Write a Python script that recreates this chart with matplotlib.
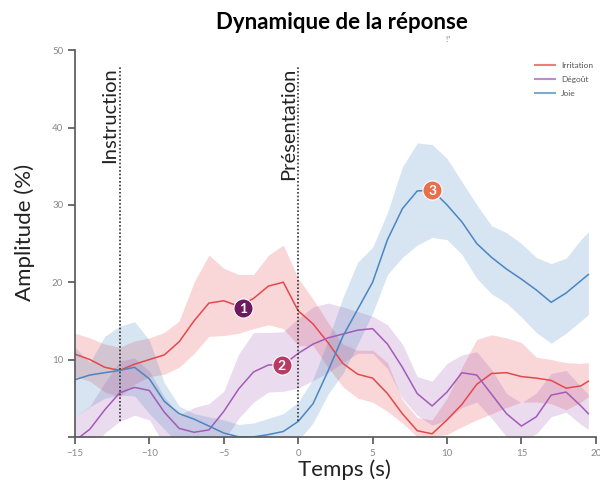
import numpy as np
import matplotlib.pyplot as plt

# time axis (s)
t = np.array([-15, -14, -13, -12, -11, -10, -9, -8, -7, -6, -5, -4, -3, -2, -1, 0,
              1, 2, 3, 4, 5, 6, 7, 8, 9, 10, 11, 12, 13, 14, 15, 16, 17, 18, 19, 19.5])

# Irritation
irr_mean = [10.7, 10.0, 9.0, 8.6, 9.4, 10.0, 10.6, 12.3, 15.0, 17.3, 17.6, 16.9, 17.9, 19.5, 20.0, 16.3,
            14.6, 12.2, 9.5, 8.1, 7.6, 5.6, 3.0, 0.8, 0.4, 2.2, 4.2, 6.8, 8.2, 8.3, 7.8, 7.6, 7.3, 6.3, 6.6, 7.2]
irr_hi = [13.4, 12.8, 12.0, 11.6, 12.4, 12.8, 13.5, 15.0, 20.0, 23.5, 21.8, 21.0, 21.0, 23.5, 24.8, 20.5,
          17.8, 14.8, 12.0, 11.2, 11.2, 9.6, 4.8, 2.5, 2.2, 5.0, 9.0, 12.6, 13.2, 12.8, 12.2, 10.3, 10.0, 9.6, 9.5, 9.6]
irr_lo = [7.8, 7.2, 5.8, 5.2, 6.8, 7.8, 8.1, 9.0, 10.8, 13.0, 13.1, 13.4, 14.0, 14.5, 14.0, 11.8,
          11.8, 9.0, 6.5, 5.0, 4.5, 3.3, 1.8, 0, 0, 0.3, 1.3, 2.2, 3.0, 3.8, 4.5, 4.5, 4.3, 3.5, 4.5, 5.2]

# Dégoût
deg_mean = [-0.5, 1.0, 3.5, 5.7, 6.4, 6.0, 3.2, 1.1, 0.6, 0.9, 3.3, 6.2, 8.4, 9.3, 9.3, 10.8,
            12.0, 12.8, 13.3, 13.8, 14.0, 12.0, 9.0, 5.6, 4.0, 5.8, 8.3, 8.0, 5.5, 3.0, 1.4, 2.6, 5.4, 5.8, 4.0, 3.0]
deg_hi = [2.6, 4.0, 7.0, 9.8, 10.2, 8.5, 5.2, 2.8, 3.8, 4.3, 5.9, 10.7, 13.5, 13.5, 13.6, 15.3,
          16.8, 17.3, 16.8, 16.2, 15.6, 14.5, 12.0, 7.8, 7.2, 9.5, 10.6, 11.0, 8.7, 5.6, 4.4, 5.7, 8.2, 8.6, 6.5, 5.5]
deg_lo = [-3, -2, 0.5, 2.0, 2.8, 2.2, -1, -2, -3, -2, -0.5, 2.4, 4.5, 5.8, 5.9, 6.3,
          7.3, 8.3, 9.6, 10.8, 10.8, 8.8, 5.0, 2.8, 1.5, 2.2, 3.8, 4.5, 2.4, 0, -0.5, 0.4, 2.6, 3.2, 1.6, 1.0]

# Joie
joie_mean = [7.4, 8.0, 8.3, 8.6, 9.0, 7.5, 4.6, 3.0, 2.3, 1.4, 0.5, 0, 0, 0.3, 0.7, 2.0,
             4.3, 8.5, 13.0, 16.5, 20.0, 25.5, 29.5, 31.8, 31.9, 30.0, 27.8, 25.0, 23.2, 21.7, 20.4, 19.0, 17.4, 18.6, 20.2, 21.0]
joie_hi = [11.6, 9.6, 13.0, 14.3, 14.9, 12.5, 7.0, 4.0, 3.0, 2.6, 2.2, 1.6, 1.8, 2.4, 3.0, 4.5,
           7.5, 12.5, 18.0, 22.6, 24.5, 29.0, 34.9, 38.0, 37.8, 36.0, 33.0, 30.0, 27.3, 26.4, 25.0, 23.2, 22.4, 23.1, 25.5, 26.5]
joie_lo = [2.6, 3.9, 5.0, 5.4, 5.3, 3.0, 1.0, -1, -2, -2, -2, -2, -2, -2, -2, -0.5,
           1.8, 5.5, 8.2, 12.0, 16.0, 21.0, 23.2, 24.8, 25.8, 25.5, 23.6, 20.5, 18.5, 17.3, 15.5, 13.5, 12.1, 13.4, 15.0, 15.8]

series = [
    ("Irritation", irr_mean, irr_lo, irr_hi, "#e5484b"),
    ("Dégoût", deg_mean, deg_lo, deg_hi, "#a35bb8"),
    ("Joie", joie_mean, joie_lo, joie_hi, "#4a86c0"),
]

# numbered markers: (label, t, y, colour)
badges = [("1", -3.7, 16.7, "#6e1a5f"), ("2", -1.1, 9.3, "#b83b63"), ("3", 9.0, 31.9, "#e8704d")]
events = [(-12, "Instruction"), (0, "Présentation")]

plt.rcParams['font.family'] = ['Lato', 'DejaVu Sans']

fig = plt.figure(figsize=(6, 4.92), dpi=100)
ax = fig.add_axes([0.125, 0.112, 0.868, 0.786])

for name, m, lo, hi, c in series:
    ax.fill_between(t, lo, hi, color=c, alpha=0.22, lw=0)
    ax.plot(t, m, color=c, lw=1.1, label=name)

for x, txt in events:
    ax.plot([x, x], [2, 47.8], color="#333333", lw=1.2, ls=(0, (1, 1.2)))
    ax.text(x - 0.1, 47.8, txt, rotation=90, ha="right", va="top", fontsize=14.5, color="#222222")

for lab, bx, by, c in badges:
    ax.scatter([bx], [by], s=190, color=c, edgecolor="white", lw=0.8, zorder=5)
    ax.text(bx, by - 0.1, lab, color="white", ha="center", va="center", fontsize=10, fontweight="bold", zorder=6)

ax.set_xlim(-15, 20)
ax.set_ylim(0, 50)
ax.set_xticks(range(-15, 21, 5))
ax.set_yticks(range(0, 51, 10))
ax.set_yticklabels(["", "10", "20", "30", "40", "50"])
for s in ["top", "right"]:
    ax.spines[s].set_visible(False)
for s in ["left", "bottom"]:
    ax.spines[s].set_color("#555555")
    ax.spines[s].set_linewidth(1.2)
ax.tick_params(colors="#555555", labelsize=7, length=5, width=1.2, labelcolor="#888888")

ax.set_xlabel("Temps (s)", fontsize=16, color="#222222", labelpad=1, x=0.518)
ax.set_ylabel("Amplitude (%)", fontsize=16, color="#222222", labelpad=12, y=0.53)
fig.suptitle("Dynamique de la réponse", x=0.57, y=0.975, fontsize=16, fontweight="bold")
fig.text(0.743, 0.915, "!\"", fontsize=6, color="#777777")

leg = ax.legend(loc="upper right", bbox_to_anchor=(1.01, 0.99), frameon=False, fontsize=6,
                handlelength=2.4, labelspacing=0.85)
for h in leg.get_lines():
    h.set_alpha(0.7)
    h.set_linewidth(1.5)
for tx in leg.get_texts():
    tx.set_color("#555555")

fig.savefig("out.png", dpi=100)
